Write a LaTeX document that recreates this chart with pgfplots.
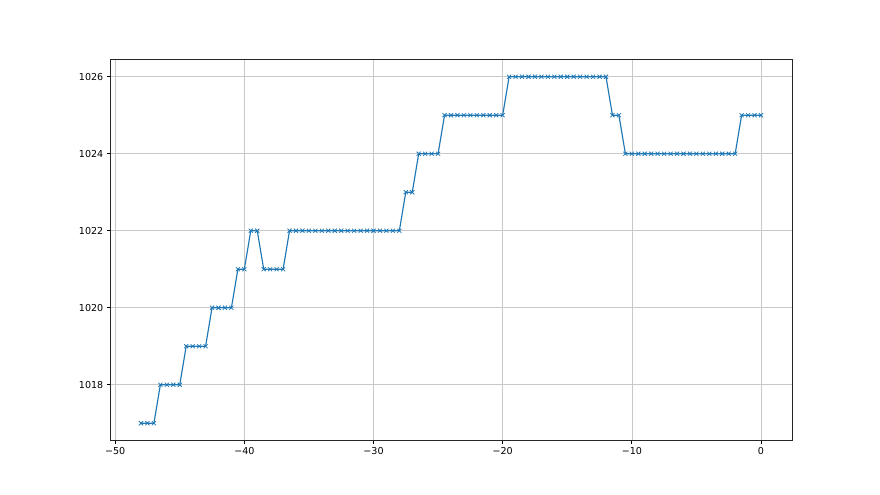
\documentclass[border=0pt]{standalone}
\usepackage{fontspec}
\setmainfont{DejaVu Sans}
\usepackage{pgfplots}
\pgfplotsset{compat=1.18}
\definecolor{mplblue}{HTML}{1F77B4}
\definecolor{gridgray}{HTML}{C8C8C8}
\begin{document}
\fontsize{10pt}{12pt}\selectfont
\begin{tikzpicture}
\path[use as bounding box, fill=white] (0,0) rectangle (921.6pt,518.4pt);
\begin{axis}[
  at={(115.2pt,57.02pt)}, anchor=south west,
  scale only axis, width=714.24pt, height=399.17pt,
  xmin=-50.4, xmax=2.4, ymin=1016.55, ymax=1026.45,
  xtick={-50,-40,-30,-20,-10,0},
  xticklabels={−50,−40,−30,−20,−10,0},
  ytick={1018,1020,1022,1024,1026},
  yticklabels={1018,1020,1022,1024,1026},
  xtick pos=left, ytick pos=left,
  tick align=outside, major tick length=3.5pt,
  tick style={black, line width=0.8pt},
  axis line style={line width=0.8pt, black!85},
  grid=major, grid style={gridgray, line width=0.7pt},
  ticklabel style={font=\fontsize{10pt}{12pt}\selectfont},
]
\addplot[mplblue, line width=1.2pt, mark=x, mark size=3pt, mark options={line width=0.8pt}] coordinates {
(-48,1017) (-47.5,1017) (-47,1017)
(-46.5,1018) (-46,1018) (-45.5,1018) (-45,1018)
(-44.5,1019) (-44,1019) (-43.5,1019) (-43,1019)
(-42.5,1020) (-42,1020) (-41.5,1020) (-41,1020)
(-40.5,1021) (-40,1021)
(-39.5,1022) (-39,1022)
(-38.5,1021) (-38,1021) (-37.5,1021) (-37,1021)
(-36.5,1022) (-36,1022) (-35.5,1022) (-35,1022) (-34.5,1022) (-34,1022)
(-33.5,1022) (-33,1022) (-32.5,1022) (-32,1022) (-31.5,1022) (-31,1022)
(-30.5,1022) (-30,1022) (-29.5,1022) (-29,1022) (-28.5,1022) (-28,1022)
(-27.5,1023) (-27,1023)
(-26.5,1024) (-26,1024) (-25.5,1024) (-25,1024)
(-24.5,1025) (-24,1025) (-23.5,1025) (-23,1025) (-22.5,1025) (-22,1025)
(-21.5,1025) (-21,1025) (-20.5,1025) (-20,1025)
(-19.5,1026) (-19,1026) (-18.5,1026) (-18,1026) (-17.5,1026) (-17,1026)
(-16.5,1026) (-16,1026) (-15.5,1026) (-15,1026) (-14.5,1026) (-14,1026)
(-13.5,1026) (-13,1026) (-12.5,1026) (-12,1026)
(-11.5,1025) (-11,1025)
(-10.5,1024) (-10,1024) (-9.5,1024) (-9,1024) (-8.5,1024) (-8,1024)
(-7.5,1024) (-7,1024) (-6.5,1024) (-6,1024) (-5.5,1024) (-5,1024)
(-4.5,1024) (-4,1024) (-3.5,1024) (-3,1024) (-2.5,1024) (-2,1024)
(-1.5,1025) (-1,1025) (-0.5,1025) (0,1025)
};
\end{axis}
\end{tikzpicture}
\end{document}
